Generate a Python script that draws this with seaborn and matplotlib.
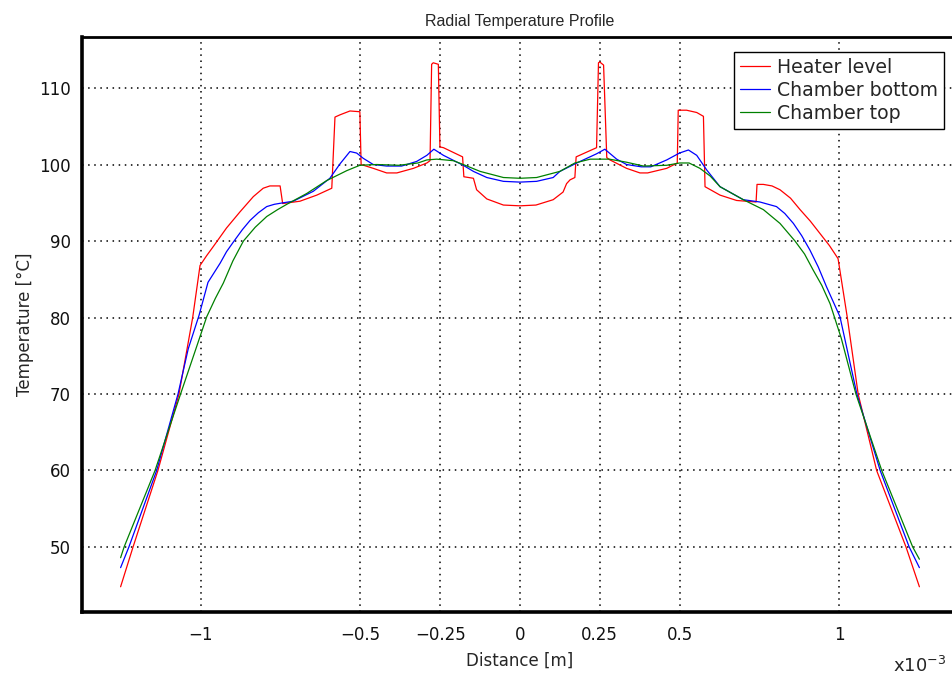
import matplotlib
matplotlib.use("Agg")
import matplotlib.pyplot as plt
import numpy as np
import pandas as pd
import seaborn as sns

# ---------------- data (distance in units of 1e-3 m, temperature in degC) -------------
heater_x = [-1.252, -1.213, -1.135, -1.069, -1.026, -1.003, -0.982, -0.961, -0.920, -0.878,
            -0.836, -0.805, -0.784, -0.752, -0.744, -0.690, -0.637, -0.590, -0.580, -0.564,
            -0.533, -0.502, -0.498, -0.460, -0.418, -0.386, -0.334, -0.292, -0.282, -0.277,
            -0.272, -0.256, -0.251, -0.240, -0.180, -0.176, -0.146, -0.136, -0.104, -0.052,
            0.0, 0.050, 0.104, 0.135, 0.146, 0.157, 0.172, 0.176, 0.240, 0.246,
            0.250, 0.262, 0.272, 0.282, 0.334, 0.376, 0.400, 0.460, 0.493, 0.496,
            0.522, 0.554, 0.575, 0.580, 0.627, 0.679, 0.740, 0.743, 0.763, 0.790,
            0.815, 0.848, 0.878, 0.910, 0.940, 0.970, 0.997, 1.026, 1.060, 1.118,
            1.210, 1.252]
heater_t = [44.8, 50.0, 60.0, 70.0, 80.0, 86.8, 88.1, 89.3, 91.7, 93.8,
            95.8, 96.9, 97.2, 97.2, 94.9, 95.2, 96.0, 96.9, 106.2, 106.5,
            107.0, 106.9, 100.0, 99.5, 98.9, 98.9, 99.5, 100.2, 100.5, 113.1,
            113.3, 113.1, 102.3, 102.2, 101.0, 98.4, 98.2, 96.7, 95.5, 94.7,
            94.6, 94.7, 95.4, 96.4, 97.5, 98.0, 98.3, 101.0, 102.2, 113.3,
            113.4, 113.0, 100.9, 100.6, 99.5, 98.9, 98.9, 99.5, 100.2, 107.1,
            107.1, 106.8, 106.3, 97.1, 96.0, 95.3, 95.1, 97.4, 97.4, 97.2,
            96.7, 95.6, 94.1, 92.6, 91.0, 89.4, 87.7, 80.0, 70.0, 60.0,
            50.0, 44.8]

bottom_x = [-1.252, -1.226, -1.139, -1.072, -1.040, -1.006, -0.978, -0.940, -0.920, -0.898,
            -0.870, -0.846, -0.820, -0.794, -0.770, -0.742, -0.711, -0.648, -0.596, -0.564,
            -0.533, -0.512, -0.491, -0.460, -0.418, -0.371, -0.324, -0.292, -0.270, -0.240,
            -0.178, -0.146, -0.104, -0.052, 0.0, 0.052, 0.104, 0.125, 0.178, 0.240,
            0.266, 0.303, 0.334, 0.380, 0.410, 0.460, 0.500, 0.528, 0.554, 0.585,
            0.627, 0.700, 0.752, 0.804, 0.830, 0.857, 0.883, 0.909, 0.935, 0.961,
            1.003, 1.056, 1.129, 1.220, 1.252]
bottom_t = [47.3, 50.0, 60.0, 70.0, 75.9, 80.3, 84.6, 87.1, 88.6, 89.9,
            91.5, 92.7, 93.7, 94.5, 94.8, 95.0, 95.2, 96.5, 98.2, 100.1,
            101.7, 101.5, 100.8, 100.0, 99.8, 99.8, 100.4, 101.2, 102.0, 101.2,
            99.9, 99.1, 98.3, 97.8, 97.7, 97.8, 98.3, 99.1, 100.2, 101.4,
            102.0, 100.7, 100.0, 99.7, 99.7, 100.6, 101.5, 101.9, 101.2, 99.3,
            97.1, 95.4, 95.1, 94.5, 93.6, 92.3, 90.7, 88.8, 86.6, 84.0,
            80.1, 70.0, 60.0, 50.0, 47.3]

top_x = [-1.252, -1.241, -1.144, -1.064, -1.016, -0.982, -0.955, -0.930, -0.900, -0.867,
         -0.830, -0.794, -0.760, -0.731, -0.669, -0.606, -0.543, -0.502, -0.450, -0.380,
         -0.320, -0.292, -0.261, -0.209, -0.178, -0.125, -0.052, 0.0, 0.052, 0.125,
         0.172, 0.220, 0.280, 0.334, 0.387, 0.460, 0.500, 0.530, 0.564, 0.596,
         0.627, 0.700, 0.763, 0.815, 0.862, 0.892, 0.919, 0.946, 0.972, 1.007,
         1.053, 1.134, 1.231, 1.252]
top_t = [48.6, 50.0, 60.0, 70.0, 75.9, 80.1, 82.5, 84.5, 87.4, 90.0,
         91.8, 93.2, 94.1, 94.8, 96.2, 97.9, 99.2, 99.9, 100.0, 99.9,
         100.2, 100.6, 100.7, 100.5, 100.0, 99.1, 98.3, 98.2, 98.3, 99.1,
         100.2, 100.7, 100.7, 100.3, 99.8, 99.9, 100.2, 100.2, 99.5, 98.5,
         97.1, 95.4, 94.1, 92.3, 90.0, 88.3, 86.2, 84.2, 81.8, 77.3,
         70.0, 60.0, 50.0, 48.4]

series_names = ["Heater level", "Chamber bottom", "Chamber top"]
series_colors = ["#ff0000", "#0000ff", "#008000"]

xtick_vals = [-1, -0.5, -0.25, 0, 0.25, 0.5, 1]
xtick_labels = ["\u22121", "\u22120.5", "\u22120.25", "0", "0.25", "0.5", "1"]
ytick_vals = [50, 60, 70, 80, 90, 100, 110]

# ---------------- build table ----------------
frames = []
for name, xs, ts in zip(series_names,
                        [heater_x, bottom_x, top_x],
                        [heater_t, bottom_t, top_t]):
    frames.append(pd.DataFrame({"x": xs, "T": ts, "series": name}))
df = pd.concat(frames, ignore_index=True)

sns.set_style("white")
plt.rcParams["font.family"] = ["DejaVu Sans"]

W, H = 952, 677
fig = plt.figure(figsize=(W / 100, H / 100), dpi=100)
ax = fig.add_axes([82 / W, 1 - 612 / H, 876 / W, 575 / H])

sns.lineplot(data=df, x="x", y="T", hue="series", hue_order=series_names,
             palette=dict(zip(series_names, series_colors)),
             estimator=None, sort=False, linewidth=0.9, ax=ax)

ax.set_xlim(-1.373, 1.373)
ax.set_ylim(41.5, 116.67)
ax.set_xticks(xtick_vals)
ax.set_xticklabels(xtick_labels)
ax.set_yticks(ytick_vals)
ax.tick_params(axis="both", length=0, labelsize=12, colors="#111111")
ax.tick_params(axis="x", pad=10)
ax.tick_params(axis="y", pad=8)

ax.grid(True, color="black", linestyle=(0, (1, 3)), linewidth=1.1)
ax.set_axisbelow(True)

for side in ["left", "bottom"]:
    ax.spines[side].set_linewidth(2.6)
    ax.spines[side].set_color("black")
ax.spines["top"].set_linewidth(2.0)
ax.spines["top"].set_color("black")
ax.spines["right"].set_visible(False)

ax.set_xlabel("Distance [m]", fontsize=12, labelpad=6)
ax.set_ylabel("Temperature [\u00b0C]", fontsize=12, labelpad=4)
ax.set_title("Radial Temperature Profile", fontsize=11.5, pad=8,
             family=["Liberation Sans", "DejaVu Sans"])

handles, labels = ax.get_legend_handles_labels()
leg = ax.legend(handles, labels, loc="upper right", bbox_to_anchor=(0.984, 0.974),
                borderaxespad=0, fontsize=13.6, frameon=True, fancybox=False,
                edgecolor="black", framealpha=1, handlelength=1.6, handletextpad=0.4,
                labelspacing=0.22, borderpad=0.3)
leg.get_frame().set_linewidth(1.0)

fig.text(893 / W, 1 - 676 / H, "x10$^{\\mathregular{-3}}$", fontsize=13,
         ha="left", va="bottom")

fig.savefig("out.png", dpi=100)
